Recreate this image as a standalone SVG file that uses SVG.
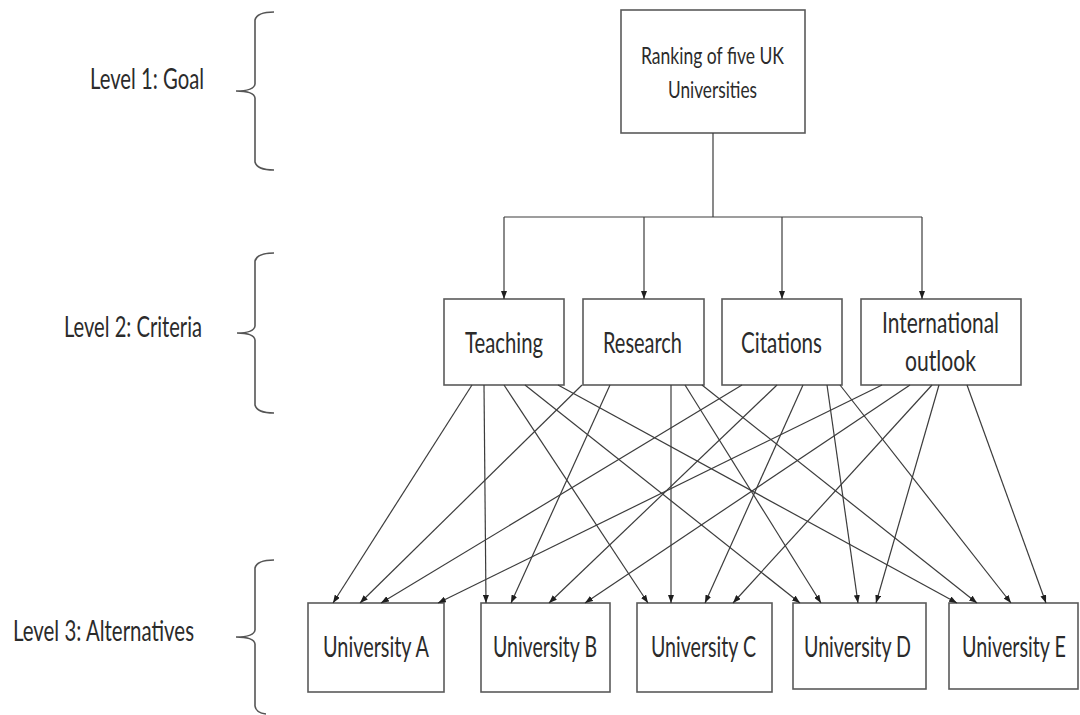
<svg xmlns="http://www.w3.org/2000/svg" width="1080" height="715" viewBox="0 0 1080 715">
<style>
.box{fill:#fff;stroke:#5a5a5a;stroke-width:1.6}
.t{font-family:Lato,"Liberation Sans",sans-serif;fill:#2b2b2b;font-size:20px}
.s{font-size:17px}
.c{fill:none;stroke:#3c3c3c;stroke-width:1.2}
.br{fill:none;stroke:#555;stroke-width:1.6}
</style>
<defs>
<marker id="ah" viewBox="0 0 8 6" refX="8" refY="3" markerWidth="8" markerHeight="6" orient="auto" markerUnits="userSpaceOnUse"><path d="M0,0 L8,3 L0,6 z" fill="#1e1e1e"/></marker>
</defs>
<rect width="1080" height="715" fill="#fff"/>

<g id="levels">
<path class="br" d="M274,12 Q257,12 255,20 L255,84 Q254,91 236,91 Q254,91 255,98 L255,162 Q257,170 274,170"/>
<text class="t" transform="translate(90,89) scale(1,1.4)" textLength="114" lengthAdjust="spacingAndGlyphs" style="font-size:20.5px">Level 1: Goal</text>
<path class="br" d="M274,253 Q257,253 255,261 L255,326 Q254,333 237,333 Q254,333 255,340 L255,405 Q257,413 274,413"/>
<text class="t" transform="translate(64,337) scale(1,1.4)" textLength="138" lengthAdjust="spacingAndGlyphs">Level 2: Criteria</text>
<path class="br" d="M274,560 Q257,560 255,568 L255,630 Q254,637 236,637 Q254,637 255,644 L255,706 Q256,713 266,714"/>
<text class="t" transform="translate(13,641) scale(1,1.4)" textLength="181" lengthAdjust="spacingAndGlyphs">Level 3: Alternatives</text>
</g>

<g id="goal">
<rect class="box" x="621" y="10" width="184" height="123"/>
<text class="t s" transform="translate(641,64) scale(1,1.4)" textLength="143" lengthAdjust="spacingAndGlyphs">Ranking of five UK</text>
<text class="t s" transform="translate(668,98) scale(1,1.4)" textLength="89" lengthAdjust="spacingAndGlyphs">Universities</text>
</g>

<g id="teaching">
<rect class="box" x="444" y="299" width="120" height="86"/>
<text class="t" transform="translate(465,353) scale(1,1.4)" textLength="78" lengthAdjust="spacingAndGlyphs">Teaching</text>
</g>
<g id="research">
<rect class="box" x="583" y="299" width="121" height="86"/>
<text class="t" transform="translate(603,353) scale(1,1.4)" textLength="79" lengthAdjust="spacingAndGlyphs">Research</text>
</g>
<g id="citations">
<rect class="box" x="722" y="299" width="120" height="86"/>
<text class="t" transform="translate(741,353) scale(1,1.4)" textLength="81" lengthAdjust="spacingAndGlyphs">Citations</text>
</g>
<g id="international">
<rect class="box" x="861" y="299" width="160" height="86"/>
<text class="t" transform="translate(882,333) scale(1,1.4)" textLength="117" lengthAdjust="spacingAndGlyphs">International</text>
<text class="t" transform="translate(905,371) scale(1,1.4)" textLength="71" lengthAdjust="spacingAndGlyphs">outlook</text>
</g>

<g id="uniA">
<rect class="box" x="308" y="603" width="136" height="89"/>
<text class="t" transform="translate(323,657) scale(1,1.4)" textLength="106" lengthAdjust="spacingAndGlyphs">University A</text>
</g>
<g id="uniB">
<rect class="box" x="481" y="603" width="129" height="89"/>
<text class="t" transform="translate(493,657) scale(1,1.4)" textLength="104" lengthAdjust="spacingAndGlyphs">University B</text>
</g>
<g id="uniC">
<rect class="box" x="637" y="603" width="135" height="89"/>
<text class="t" transform="translate(651,657) scale(1,1.4)" textLength="105" lengthAdjust="spacingAndGlyphs">University C</text>
</g>
<g id="uniD">
<rect class="box" x="793" y="603" width="133" height="86"/>
<text class="t" transform="translate(804,657) scale(1,1.4)" textLength="107" lengthAdjust="spacingAndGlyphs">University D</text>
</g>
<g id="uniE">
<rect class="box" x="949" y="603" width="129" height="86"/>
<text class="t" transform="translate(962,657) scale(1,1.4)" textLength="104" lengthAdjust="spacingAndGlyphs">University E</text>
</g>

<g id="connectors">
<path class="c" d="M713,133 V217 M504,217 H922"/>
<path class="c" marker-end="url(#ah)" d="M504,217 V299"/>
<path class="c" marker-end="url(#ah)" d="M644,217 V299"/>
<path class="c" marker-end="url(#ah)" d="M782,217 V299"/>
<path class="c" marker-end="url(#ah)" d="M922,217 V299"/>

<path class="c" marker-end="url(#ah)" d="M472,385 L333,603"/>
<path class="c" marker-end="url(#ah)" d="M484,385 L486,603"/>
<path class="c" marker-end="url(#ah)" d="M504,385 L648,603"/>
<path class="c" marker-end="url(#ah)" d="M525,385 L800,603"/>
<path class="c" marker-end="url(#ah)" d="M558,385 L957,603"/>

<path class="c" marker-end="url(#ah)" d="M582,385 L360,603"/>
<path class="c" marker-end="url(#ah)" d="M610,385 L511,603"/>
<path class="c" marker-end="url(#ah)" d="M671,385 L671,603"/>
<path class="c" marker-end="url(#ah)" d="M685,385 L821,603"/>
<path class="c" marker-end="url(#ah)" d="M702,385 L977,603"/>

<path class="c" marker-end="url(#ah)" d="M742,385 L381,603"/>
<path class="c" marker-end="url(#ah)" d="M777,385 L549,603"/>
<path class="c" marker-end="url(#ah)" d="M803,385 L705,603"/>
<path class="c" marker-end="url(#ah)" d="M827,385 L858,603"/>
<path class="c" marker-end="url(#ah)" d="M840,385 L1011,603"/>

<path class="c" marker-end="url(#ah)" d="M882,385 L438,603"/>
<path class="c" marker-end="url(#ah)" d="M910,385 L585,603"/>
<path class="c" marker-end="url(#ah)" d="M932,385 L733,603"/>
<path class="c" marker-end="url(#ah)" d="M939,385 L876,603"/>
<path class="c" marker-end="url(#ah)" d="M967,385 L1046,603"/>
</g>
</svg>
